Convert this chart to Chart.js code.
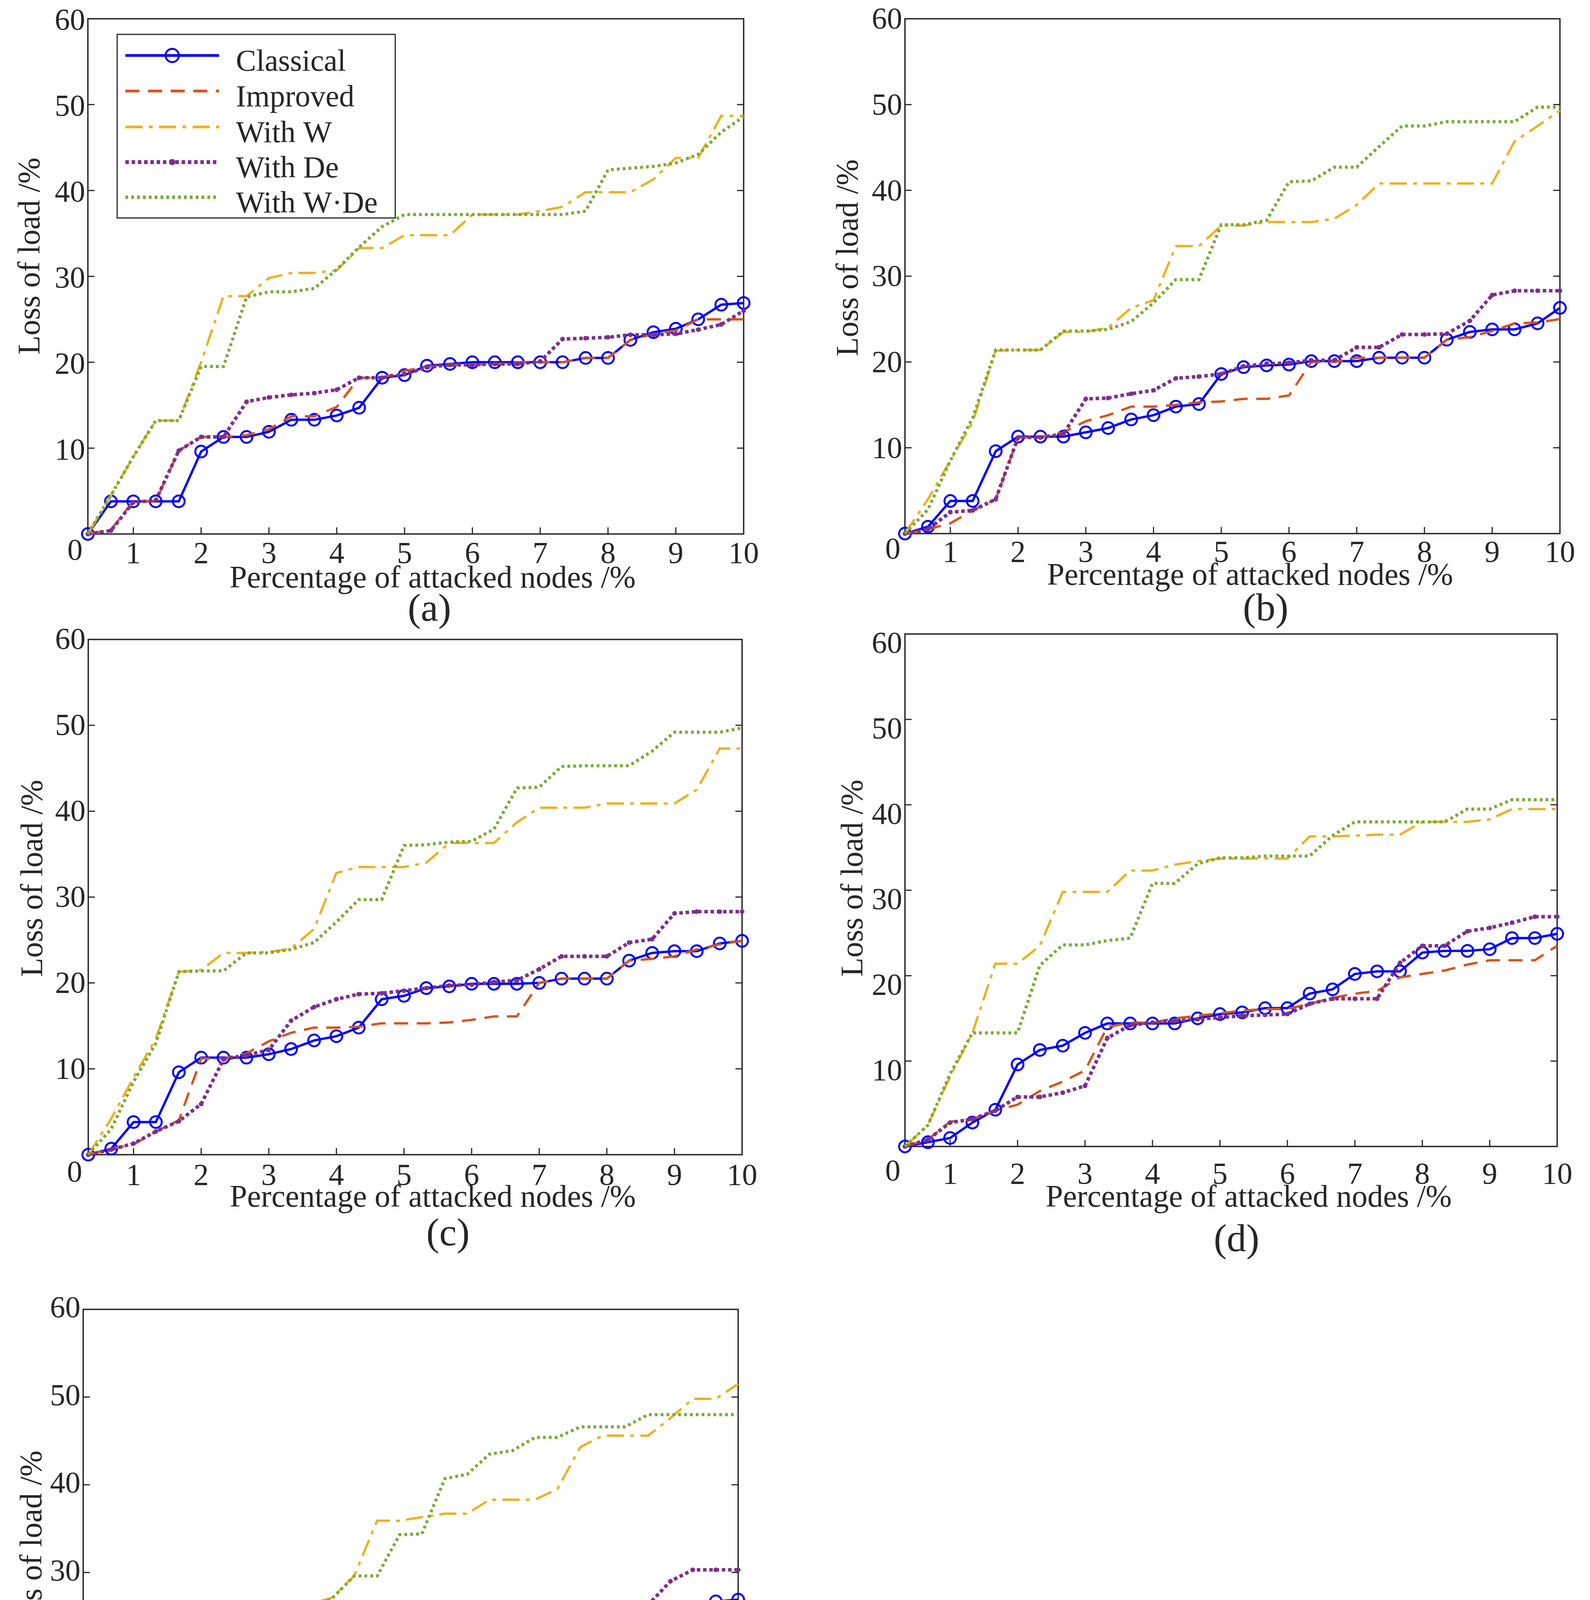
<!DOCTYPE html>
<html>
<head>
<meta charset="utf-8">
<script src="https://cdn.jsdelivr.net/npm/chart.js@4.4.1/dist/chart.umd.min.js"></script>
<style>
  html, body { margin: 0; padding: 0; background: #fff; }
  body { width: 4071px; height: 4991px; position: relative; overflow: hidden; }
  canvas { position: absolute; }
</style>
</head>
<body>
<canvas id="panel-a"></canvas>
<canvas id="panel-b"></canvas>
<canvas id="panel-c"></canvas>
<canvas id="panel-d"></canvas>
<canvas id="panel-e"></canvas>
<script>
// ---- data ----
const xValues = [0.33, 0.67, 1, 1.33, 1.67, 2, 2.33, 2.67, 3, 3.33, 3.67, 4, 4.33, 4.67, 5,
                 5.33, 5.67, 6, 6.33, 6.67, 7, 7.33, 7.67, 8, 8.33, 8.67, 9, 9.33, 9.67, 10];
const xTicks = [1, 2, 3, 4, 5, 6, 7, 8, 9, 10];
const yTicks = [0, 10, 20, 30, 40, 50, 60];
const seriesNames = ['Classical', 'Improved', 'With W', 'With De', 'With W\u00b7De'];
const panelLabels = ['(a)', '(b)', '(c)', '(d)', '(e)'];
const xTitle = 'Percentage of attacked nodes /%';
const yTitle = 'Loss of load /%';

const classicalA = [0, 3.8, 3.8, 3.8, 3.8, 9.6, 11.3, 11.3, 11.9, 13.3, 13.3, 13.8, 14.7, 18.2, 18.5, 19.6, 19.8, 20.0, 20.0, 20.0, 20.0, 20.0, 20.5, 20.5, 22.6, 23.5, 23.9, 25.0, 26.7, 26.9];
const improvedA  = [0, 0.5, 3.8, 3.8, 9.7, 11.3, 11.3, 11.5, 12.2, 13.7, 13.7, 14.8, 18.2, 18.2, 19.0, 19.5, 19.7, 19.7, 19.8, 20.0, 20.0, 20.0, 20.5, 20.5, 22.6, 23.3, 23.7, 25.0, 25.0, 25.0];
const withWA     = [0, 4.5, 9.0, 13.2, 13.2, 20.0, 27.7, 27.7, 29.8, 30.4, 30.4, 30.7, 33.3, 33.3, 34.8, 34.8, 34.8, 37.2, 37.2, 37.2, 37.6, 38.1, 39.8, 39.8, 39.8, 41.3, 43.8, 43.8, 48.7, 48.7];
const withDeA    = [0, 0.4, 3.7, 3.9, 9.7, 11.3, 11.3, 15.4, 15.9, 16.2, 16.4, 16.8, 18.2, 18.2, 18.6, 19.4, 19.7, 19.7, 19.8, 19.8, 20.1, 22.7, 22.8, 22.9, 23.2, 23.2, 23.3, 23.8, 24.4, 26.0];
const withWDeA   = [0, 4.5, 9.0, 13.2, 13.2, 19.5, 19.5, 27.6, 28.2, 28.2, 28.6, 30.8, 33.4, 35.8, 37.2, 37.2, 37.2, 37.2, 37.2, 37.2, 37.2, 37.2, 37.6, 42.4, 42.6, 42.8, 43.2, 44.2, 46.8, 48.6];

const classicalB = [0, 0.8, 3.8, 3.8, 9.6, 11.3, 11.3, 11.3, 11.8, 12.3, 13.3, 13.8, 14.8, 15.1, 18.6, 19.4, 19.6, 19.7, 20.1, 20.1, 20.1, 20.5, 20.5, 20.5, 22.6, 23.5, 23.8, 23.8, 24.5, 26.3];
const improvedB  = [0, 0.5, 1.2, 2.7, 4.0, 11.2, 11.2, 11.8, 13.1, 13.8, 14.8, 14.8, 15.0, 15.3, 15.4, 15.7, 15.7, 16.1, 20.0, 20.0, 20.5, 20.5, 20.5, 20.5, 22.6, 22.9, 23.6, 24.5, 24.6, 25.0];
const withWB     = [0, 4.0, 8.5, 13.0, 21.3, 21.4, 21.4, 23.5, 23.5, 24.0, 26.3, 27.2, 33.5, 33.5, 35.9, 35.9, 36.3, 36.3, 36.3, 36.7, 38.3, 40.8, 40.8, 40.8, 40.8, 40.8, 40.8, 45.7, 47.5, 49.3];
const withDeB    = [0, 0.5, 2.5, 2.7, 4.0, 11.2, 11.2, 11.6, 15.7, 15.8, 16.3, 16.7, 18.1, 18.3, 18.6, 19.5, 19.8, 19.9, 20.2, 20.2, 21.7, 21.7, 23.2, 23.2, 23.3, 24.8, 27.8, 28.3, 28.3, 28.3];
const withWDeB   = [0, 2.8, 8.5, 13.5, 21.4, 21.4, 21.4, 23.6, 23.6, 23.8, 24.7, 26.9, 29.6, 29.6, 36.0, 36.0, 36.5, 41.0, 41.1, 42.7, 42.7, 45.1, 47.5, 47.5, 48.0, 48.0, 48.0, 48.0, 49.7, 49.7];

const classicalC = [0, 0.7, 3.8, 3.8, 9.6, 11.3, 11.3, 11.3, 11.7, 12.3, 13.3, 13.8, 14.8, 18.1, 18.5, 19.4, 19.6, 19.9, 19.9, 19.9, 20.0, 20.5, 20.5, 20.5, 22.6, 23.5, 23.7, 23.7, 24.6, 24.9];
const improvedC  = [0, 0.7, 1.2, 2.7, 4.0, 11.2, 11.2, 11.8, 13.2, 14.2, 14.8, 14.8, 14.9, 15.3, 15.3, 15.3, 15.4, 15.7, 16.1, 16.1, 20.0, 20.5, 20.5, 20.5, 22.6, 22.8, 23.1, 23.9, 24.5, 24.9];
const withWC     = [0, 4.2, 9.0, 13.5, 21.3, 21.5, 23.5, 23.5, 23.6, 24.0, 26.3, 32.8, 33.5, 33.5, 33.5, 34.0, 36.3, 36.3, 36.3, 38.7, 40.4, 40.4, 40.4, 40.9, 40.9, 40.9, 40.9, 42.5, 47.3, 47.3];
const withDeC    = [0, 0.6, 1.3, 2.7, 3.9, 5.9, 11.1, 11.6, 12.2, 15.6, 17.2, 18.1, 18.7, 18.8, 19.1, 19.4, 19.7, 19.8, 20.1, 20.3, 21.6, 23.1, 23.1, 23.1, 24.7, 25.1, 28.1, 28.3, 28.3, 28.3];
const withWDeC   = [0, 3.0, 8.5, 13.0, 21.3, 21.4, 21.4, 23.5, 23.5, 23.9, 24.7, 27.1, 29.7, 29.7, 36.0, 36.1, 36.4, 36.5, 37.9, 42.7, 42.8, 45.2, 45.3, 45.3, 45.3, 47.0, 49.2, 49.2, 49.2, 49.7];

const classicalD = [0, 0.5, 1.0, 2.8, 4.3, 9.6, 11.3, 11.8, 13.3, 14.4, 14.4, 14.4, 14.4, 15.0, 15.5, 15.7, 16.2, 16.2, 17.9, 18.4, 20.2, 20.5, 20.5, 22.7, 22.9, 22.9, 23.1, 24.4, 24.4, 24.9];
const improvedD  = [0, 0.8, 2.9, 3.2, 4.2, 4.9, 6.5, 7.6, 8.9, 14.0, 14.5, 14.5, 15.0, 15.3, 15.6, 15.9, 16.1, 16.1, 16.7, 17.4, 17.9, 18.2, 19.8, 20.2, 20.6, 21.3, 21.8, 21.8, 21.8, 23.5];
const withWD     = [0, 2.5, 8.2, 13.3, 21.4, 21.4, 23.5, 29.8, 29.8, 29.8, 32.3, 32.3, 33.0, 33.4, 33.7, 33.7, 33.7, 33.7, 36.3, 36.3, 36.4, 36.5, 36.5, 38.0, 38.0, 38.0, 38.3, 39.5, 39.5, 39.5];
const withDeD    = [0, 0.8, 2.8, 3.2, 4.2, 5.8, 5.8, 6.3, 7.1, 12.7, 14.2, 14.5, 14.7, 14.9, 15.1, 15.3, 15.4, 15.5, 16.7, 17.3, 17.3, 17.3, 21.5, 23.5, 23.5, 25.2, 25.6, 26.2, 26.9, 26.9];
const withWDeD   = [0, 2.5, 8.5, 13.3, 13.3, 13.3, 21.2, 23.6, 23.6, 24.1, 24.4, 30.8, 30.8, 33.1, 33.8, 33.8, 34.0, 34.0, 34.0, 36.4, 38.0, 38.0, 38.0, 38.0, 38.0, 39.5, 39.5, 40.6, 40.6, 40.6];

const classicalE = [0, 0.7, 3.8, 3.8, 3.8, 9.6, 11.3, 11.9, 11.9, 13.2, 13.2, 13.8, 17.8, 18.1, 18.5, 19.5, 19.5, 19.5, 19.8, 19.8, 20.1, 20.1, 20.4, 20.9, 21.7, 21.7, 23.8, 25.4, 26.7, 26.9];
const improvedE  = [0, 0.5, 1.2, 2.8, 9.6, 11.3, 11.6, 12.2, 12.2, 13.7, 13.8, 17.8, 17.9, 18.5, 19.4, 19.4, 19.5, 19.7, 19.8, 20.1, 20.1, 20.3, 20.8, 21.7, 21.7, 21.7, 23.6, 23.6, 24.5, 26.3];
const withWE     = [0, 4.2, 8.7, 13.0, 21.3, 21.3, 21.4, 23.5, 23.5, 23.8, 26.4, 27.1, 29.6, 35.9, 35.9, 36.3, 36.7, 36.7, 38.3, 38.3, 38.3, 39.5, 44.3, 45.6, 45.6, 45.6, 47.6, 49.8, 49.8, 51.5];
const withDeE    = [0, 0.5, 2.5, 2.6, 3.9, 11.2, 11.3, 15.3, 15.9, 16.2, 16.5, 16.6, 16.6, 16.9, 18.4, 18.9, 19.5, 19.6, 19.8, 19.8, 20.4, 21.6, 21.8, 23.2, 26.3, 26.3, 29.0, 30.3, 30.3, 30.3];
const withWDeE   = [0, 4.0, 8.5, 13.0, 21.3, 21.3, 21.3, 22.5, 23.4, 23.9, 26.2, 27.0, 29.6, 29.6, 34.3, 34.4, 40.7, 41.2, 43.5, 43.9, 45.4, 45.4, 46.6, 46.6, 46.6, 48.0, 48.0, 48.0, 48.0, 48.0];

// ---- styles and placement ----
const INK = '#262626';
const SERIF = '"Liberation Serif", "Times New Roman", serif';
const LEFT_BOX = 230, TOP_PAD = 48, RIGHT_PAD = 60, BOTTOM_BOX = 320;

const seriesStyles = [
  { borderColor: '#0000ff', borderWidth: 6, pointRadius: 15, pointBorderWidth: 5,
    pointBackgroundColor: 'rgba(0,0,0,0)', pointBorderColor: '#0000ff', order: 5 },
  { borderColor: '#d95319', borderWidth: 6, borderDash: [36, 22], pointRadius: 0, order: 4 },
  { borderColor: '#edb120', borderWidth: 6, borderDash: [44, 16, 10, 16], pointRadius: 0, order: 3 },
  { borderColor: '#7e2f8e', borderWidth: 9, borderDash: [9, 7], pointRadius: 6, pointBorderWidth: 0,
    pointBackgroundColor: '#7e2f8e', order: 2 },
  { borderColor: '#77ac30', borderWidth: 8, borderDash: [7, 8], pointRadius: 0, order: 1 }
];

// plot box [left, top, right, bottom] in page pixels, plus text offsets
const panels = [
  { id: 'panel-a', series: [classicalA, improvedA, withWA, withDeA, withWDeA], box: [225, 48, 1904, 1367],
    xPad: 7, yLabelOff: 8, zeroDx: 33, xTitleDx: 43, xTitleDy: 116, yTitleDx: 145, yTitleDy: -52, tagDx: 35, tagDy: 196, legend: true },
  { id: 'panel-b', series: [classicalB, improvedB, withWB, withDeB, withWDeB], box: [2317, 48, 3994, 1366],
    xPad: 5, yLabelOff: 5, zeroDx: 31, xTitleDx: 45, xTitleDy: 110, yTitleDx: 142, yTitleDy: -47, tagDx: 85, tagDy: 196, legend: false },
  { id: 'panel-c', series: [classicalC, improvedC, withWC, withDeC, withWDeC], box: [226, 1637, 1900, 2956],
    xPad: 10, yLabelOff: 4, zeroDx: 35, xTitleDx: 45, xTitleDy: 112, yTitleDx: 139, yTitleDy: -48, tagDx: 84, tagDy: 206, legend: false },
  { id: 'panel-d', series: [classicalD, improvedD, withWD, withDeD, withWDeD], box: [2317, 1623, 3994, 2935],
    xPad: 28, yLabelOff: 28, zeroDx: 31, xTitleDx: 45, xTitleDy: 133, yTitleDx: 130, yTitleDy: -31, tagDx: 14, tagDy: 242, legend: false },
  { id: 'panel-e', series: [classicalE, improvedE, withWE, withDeE, withWDeE], box: [213, 3352, 1890, 4699],
    xPad: -3, yLabelOff: 0, zeroDx: 25, xTitleDx: 54, xTitleDy: 103, yTitleDx: 128, yTitleDy: -60, tagDx: 31, tagDy: 219, legend: false }
];

// MATLAB-like frame: box, inward ticks (bottom, left, right), titles, legend
const matlabFrame = {
  id: 'matlabFrame',
  beforeDatasetsDraw(chart, args, opts) {
    const { ctx, chartArea: a, scales: { x, y } } = chart;
    ctx.save();
    ctx.strokeStyle = INK;
    ctx.lineWidth = 3;
    ctx.beginPath();
    xTicks.forEach(v => {
      const px = x.getPixelForValue(v);
      if (px > a.left + 3 && px < a.right - 3) {
        ctx.moveTo(px, a.bottom); ctx.lineTo(px, a.bottom - 17);
      }
    });
    yTicks.forEach(v => {
      const py = y.getPixelForValue(v);
      if (py > a.top + 3 && py < a.bottom - 3) {
        ctx.moveTo(a.left, py); ctx.lineTo(a.left + 17, py);
        ctx.moveTo(a.right, py); ctx.lineTo(a.right - 17, py);
      }
    });
    ctx.stroke();
    ctx.lineWidth = 3.5;
    ctx.strokeRect(a.left, a.top, a.right - a.left, a.bottom - a.top);
    ctx.restore();
  },
  afterDraw(chart, args, opts) {
    const { ctx, chartArea: a } = chart;
    const cx = (a.left + a.right) / 2, cy = (a.top + a.bottom) / 2;
    ctx.save();
    ctx.fillStyle = INK;
    ctx.textAlign = 'center';
    ctx.textBaseline = 'middle';
    ctx.font = '78px ' + SERIF;
    ctx.fillText('0', a.left - opts.zeroDx, a.bottom + opts.xPad + 39);
    ctx.font = '80px ' + SERIF;
    ctx.fillText(xTitle, cx + opts.xTitleDx, a.bottom + opts.xTitleDy);
    ctx.save();
    ctx.translate(a.left - opts.yTitleDx, cy + opts.yTitleDy);
    ctx.rotate(-Math.PI / 2);
    ctx.fillText(yTitle, 0, 0);
    ctx.restore();
    ctx.font = '100px ' + SERIF;
    ctx.fillText(opts.tag, cx + opts.tagDx, a.bottom + opts.tagDy);

    if (opts.legend) {
      const bx = a.left + 75, by = a.top + 40;
      ctx.lineWidth = 3;
      ctx.strokeStyle = INK;
      ctx.fillStyle = '#fff';
      ctx.fillRect(bx, by, 712, 470);
      ctx.strokeRect(bx, by, 712, 470);
      const rows = [94, 185, 277, 367, 457];
      ctx.font = '78px ' + SERIF;
      ctx.textAlign = 'left';
      ctx.textBaseline = 'alphabetic';
      chart.data.datasets.forEach((ds, i) => {
        const ry = a.top + rows[i];
        const x0 = a.left + 96, x1 = a.left + 336;
        ctx.save();
        ctx.strokeStyle = ds.borderColor;
        ctx.lineWidth = ds.borderWidth + 1;
        ctx.setLineDash(ds.borderDash || []);
        ctx.beginPath();
        ctx.moveTo(x0, ry); ctx.lineTo(x1, ry);
        ctx.stroke();
        ctx.setLineDash([]);
        if (ds.pointRadius > 0) {
          ctx.beginPath();
          ctx.arc((x0 + x1) / 2, ry, ds.pointRadius + 2, 0, Math.PI * 2);
          if (ds.pointBorderWidth > 0) {
            ctx.lineWidth = ds.pointBorderWidth;
            ctx.strokeStyle = ds.pointBorderColor;
            ctx.stroke();
          } else {
            ctx.fillStyle = ds.pointBackgroundColor;
            ctx.fill();
          }
        }
        ctx.restore();
        ctx.fillStyle = INK;
        ctx.fillText(ds.label, a.left + 379, ry + 39);
      });
    }
    ctx.restore();
  }
};

const initPanel = (p, idx) => {
  const [L, T, R, B] = p.box;
  const canvas = document.getElementById(p.id);
  canvas.width = R - L + LEFT_BOX + RIGHT_PAD;
  canvas.height = B - T + TOP_PAD + BOTTOM_BOX;
  canvas.style.left = (L - LEFT_BOX) + 'px';
  canvas.style.top = (T - TOP_PAD) + 'px';

  const datasets = p.series.map((vals, i) => Object.assign({
    label: seriesNames[i],
    data: vals.map((v, k) => ({ x: xValues[k], y: v })),
    fill: false,
    tension: 0,
    clip: false
  }, seriesStyles[i]));

  return new Chart(canvas, {
    type: 'line',
    data: { datasets },
    plugins: [matlabFrame],
    options: {
      responsive: false,
      animation: false,
      devicePixelRatio: 1,
      events: [],
      layout: { padding: { left: 0, top: TOP_PAD, right: RIGHT_PAD, bottom: 0 } },
      plugins: {
        legend: { display: false },
        tooltip: { enabled: false },
        matlabFrame: {
          tag: panelLabels[idx], legend: p.legend, xPad: p.xPad, zeroDx: p.zeroDx,
          xTitleDx: p.xTitleDx, xTitleDy: p.xTitleDy, yTitleDx: p.yTitleDx, yTitleDy: p.yTitleDy,
          tagDx: p.tagDx, tagDy: p.tagDy
        }
      },
      scales: {
        x: {
          type: 'linear',
          min: 0.33,
          max: 10,
          grid: { display: false },
          border: { display: false },
          afterBuildTicks: (scale) => { scale.ticks = xTicks.map(v => ({ value: v })); },
          afterFit: (scale) => { scale.height = BOTTOM_BOX; },
          ticks: {
            autoSkip: false,
            maxRotation: 0,
            padding: p.xPad,
            color: INK,
            font: { family: SERIF, size: 78, lineHeight: 1 }
          }
        },
        y: {
          min: 0,
          max: 60,
          grid: { display: false, drawTicks: false },
          border: { display: false },
          afterBuildTicks: (scale) => { scale.ticks = yTicks.filter(v => v > 0).map(v => ({ value: v })); },
          afterFit: (scale) => { scale.width = LEFT_BOX; },
          ticks: {
            padding: 7,
            labelOffset: p.yLabelOff,
            color: INK,
            font: { family: SERIF, size: 78, lineHeight: 1 }
          }
        }
      }
    }
  });
};

panels.forEach(initPanel);
</script>
</body>
</html>
